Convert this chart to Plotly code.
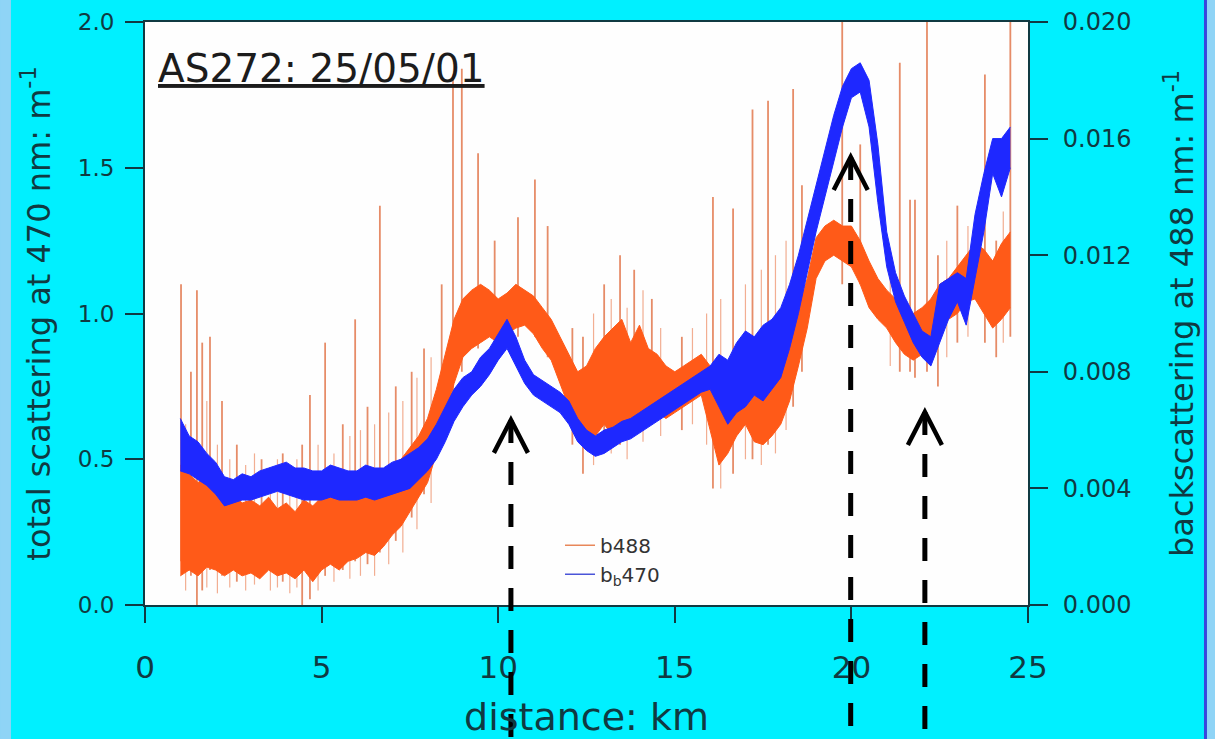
import plotly.graph_objects as go

# ---------------- data ----------------
DIST_KM = [1.00, 1.25, 1.50, 1.75, 2.00, 2.25, 2.50, 2.75, 3.00, 3.25, 3.50, 3.75,
           4.00, 4.25, 4.50, 4.75, 5.00, 5.25, 5.50, 5.75, 6.00, 6.25, 6.50, 6.75,
           7.00, 7.25, 7.50, 7.75, 8.00, 8.25, 8.50, 8.75, 9.00, 9.25, 9.50, 9.75,
           10.00, 10.25, 10.50, 10.75, 11.00, 11.25, 11.50, 11.75, 12.00, 12.25, 12.50, 12.75,
           13.00, 13.25, 13.50, 13.75, 14.00, 14.25, 14.50, 14.75, 15.00, 15.25, 15.50, 15.75,
           16.00, 16.25, 16.50, 16.75, 17.00, 17.25, 17.50, 17.75, 18.00, 18.25, 18.50, 18.75,
           19.00, 19.25, 19.50, 19.75, 20.00, 20.25, 20.50, 20.75, 21.00, 21.25, 21.50, 21.75,
           22.00, 22.25, 22.50, 22.75, 23.00, 23.25, 23.50, 23.75, 24.00, 24.25, 24.50]

# b488 (left axis, total scattering) : lower / upper edge of the noisy band
B488_LOW = [0.10, 0.12, 0.10, 0.13, 0.12, 0.10, 0.12, 0.10, 0.11, 0.09, 0.12, 0.10,
            0.11, 0.09, 0.12, 0.08, 0.12, 0.14, 0.12, 0.15, 0.16, 0.18, 0.17, 0.20,
            0.24, 0.27, 0.32, 0.37, 0.42, 0.52, 0.64, 0.76, 0.85, 0.88, 0.90, 0.92,
            0.90, 0.93, 0.95, 0.96, 0.93, 0.88, 0.84, 0.76, 0.68, 0.60, 0.56, 0.58,
            0.62, 0.58, 0.62, 0.60, 0.64, 0.62, 0.66, 0.64, 0.66, 0.68, 0.70, 0.72,
            0.60, 0.48, 0.52, 0.58, 0.62, 0.56, 0.55, 0.58, 0.62, 0.70, 0.82, 0.95,
            1.12, 1.18, 1.20, 1.18, 1.16, 1.10, 1.02, 0.98, 0.95, 0.90, 0.86, 0.84,
            0.86, 0.90, 0.94, 0.98, 1.00, 1.04, 1.05, 1.00, 0.95, 0.98, 1.02]
B488_HIGH = [0.48, 0.45, 0.42, 0.44, 0.40, 0.36, 0.38, 0.35, 0.36, 0.34, 0.37, 0.33,
             0.35, 0.32, 0.36, 0.34, 0.37, 0.38, 0.40, 0.39, 0.44, 0.42, 0.45, 0.44,
             0.48, 0.50, 0.54, 0.58, 0.64, 0.74, 0.86, 0.98, 1.05, 1.08, 1.10, 1.08,
             1.05, 1.07, 1.10, 1.08, 1.06, 1.02, 0.98, 0.92, 0.86, 0.80, 0.82, 0.88,
             0.92, 0.95, 0.98, 0.90, 0.96, 0.88, 0.86, 0.82, 0.80, 0.82, 0.84, 0.86,
             0.82, 0.78, 0.75, 0.85, 0.88, 0.82, 0.80, 0.84, 0.88, 0.95, 1.02, 1.12,
             1.26, 1.30, 1.32, 1.30, 1.30, 1.25, 1.18, 1.12, 1.08, 1.05, 1.02, 1.00,
             1.02, 1.05, 1.10, 1.12, 1.16, 1.20, 1.24, 1.22, 1.18, 1.24, 1.28]

# bb470 (right axis, backscattering) : lower / upper edge of the noisy band
BB470_LOW = [0.0046, 0.0045, 0.0043, 0.0041, 0.0038, 0.0034, 0.0035, 0.0036, 0.0036, 0.0037, 0.0038, 0.0039,
             0.0038, 0.0037, 0.0036, 0.0036, 0.0036, 0.0037, 0.0036, 0.0036, 0.0036, 0.0037, 0.0036, 0.0037,
             0.0038, 0.0039, 0.0040, 0.0043, 0.0046, 0.0050, 0.0056, 0.0063, 0.0068, 0.0072, 0.0075, 0.0079,
             0.0084, 0.0088, 0.0082, 0.0076, 0.0072, 0.0070, 0.0068, 0.0066, 0.0062, 0.0056, 0.0053, 0.0051,
             0.0052, 0.0054, 0.0056, 0.0057, 0.0059, 0.0061, 0.0063, 0.0065, 0.0067, 0.0069, 0.0071, 0.0073,
             0.0074, 0.0068, 0.0062, 0.0066, 0.0068, 0.0072, 0.0070, 0.0074, 0.0078, 0.0088, 0.0100, 0.0114,
             0.0128, 0.0140, 0.0152, 0.0164, 0.0174, 0.0176, 0.0164, 0.0138, 0.0116, 0.0104, 0.0097, 0.0090,
             0.0085, 0.0082, 0.0090, 0.0098, 0.0104, 0.0096, 0.0112, 0.0128, 0.0148, 0.0140, 0.0150]
BB470_HIGH = [0.0064, 0.0058, 0.0056, 0.0052, 0.0049, 0.0044, 0.0043, 0.0045, 0.0044, 0.0046, 0.0047, 0.0048,
              0.0049, 0.0047, 0.0047, 0.0046, 0.0046, 0.0048, 0.0047, 0.0046, 0.0046, 0.0048, 0.0047, 0.0047,
              0.0049, 0.0050, 0.0052, 0.0054, 0.0057, 0.0062, 0.0068, 0.0074, 0.0078, 0.0080, 0.0085, 0.0088,
              0.0093, 0.0098, 0.0092, 0.0084, 0.0079, 0.0077, 0.0075, 0.0073, 0.0070, 0.0064, 0.0060, 0.0058,
              0.0060, 0.0061, 0.0063, 0.0064, 0.0066, 0.0068, 0.0070, 0.0072, 0.0074, 0.0076, 0.0078, 0.0080,
              0.0082, 0.0086, 0.0084, 0.0090, 0.0094, 0.0092, 0.0096, 0.0098, 0.0102, 0.0110, 0.0120, 0.0132,
              0.0144, 0.0156, 0.0168, 0.0178, 0.0184, 0.0186, 0.0180, 0.0158, 0.0128, 0.0114, 0.0106, 0.0100,
              0.0094, 0.0092, 0.0110, 0.0112, 0.0114, 0.0112, 0.0134, 0.0148, 0.0160, 0.0160, 0.0164]

# isolated tall spikes of the b488 record (left axis)
SPIKE_KM = [1.02, 1.30, 1.47, 1.62, 1.84, 2.18, 2.60, 3.30, 3.90, 4.45,
            4.67, 5.10, 5.60, 5.95, 6.30, 6.65, 7.10, 7.55, 7.90, 8.40,
            8.72, 8.97, 9.43, 9.90, 10.56, 11.04, 11.40, 12.10, 12.40, 13.00,
            13.45, 13.85, 14.35, 15.20, 16.08, 16.65, 17.20, 17.64, 18.35, 18.60,
            19.74, 20.25, 21.37, 21.66, 21.80, 22.14, 22.45, 23.00, 23.78, 24.10, 24.50]
SPIKE_TOP = [1.10, 0.80, 1.08, 0.90, 0.92, 0.70, 0.55, 0.50, 0.52, 0.55,
             0.72, 0.90, 0.62, 0.98, 0.68, 1.37, 0.75, 0.80, 0.88, 1.10,
             1.82, 1.84, 1.55, 1.25, 1.33, 1.46, 1.30, 0.95, 0.92, 1.10,
             1.20, 1.15, 1.05, 0.92, 1.40, 1.36, 1.70, 1.73, 1.77, 1.44,
             2.00, 1.58, 1.86, 1.39, 1.39, 2.00, 1.20, 1.37, 1.82, 1.25, 2.00]
SPIKE_BOTTOM = [0.15, 0.10, 0.00, 0.05, 0.12, 0.10, 0.08, 0.10, 0.08, 0.00,
                0.02, 0.10, 0.12, 0.15, 0.14, 0.18, 0.22, 0.30, 0.38, 0.60,
                0.70, 0.80, 0.88, 0.90, 0.92, 0.92, 0.85, 0.55, 0.45, 0.58,
                0.55, 0.60, 0.62, 0.60, 0.40, 0.45, 0.50, 0.55, 0.68, 0.80,
                1.10, 1.10, 0.80, 0.80, 0.78, 0.80, 0.75, 0.90, 0.90, 0.85, 0.92]

# shorter hair-like excursions of the b488 record (left axis)
HAIR_KM = [1.15, 1.75, 2.05, 2.40, 2.85, 3.10, 3.55, 3.75, 4.10, 4.30,
           4.90, 5.35, 5.80, 6.10, 6.50, 6.90, 7.30, 7.70, 8.10, 12.70,
           13.20, 13.65, 14.10, 14.60, 15.50, 15.90, 16.30, 17.00, 17.45, 17.85,
           18.15, 21.10, 22.70, 23.30, 24.30]
HAIR_TOP = [0.62, 0.70, 0.55, 0.50, 0.48, 0.52, 0.47, 0.50, 0.46, 0.50,
            0.55, 0.52, 0.58, 0.60, 0.62, 0.66, 0.70, 0.78, 0.85, 1.00,
            1.05, 1.02, 1.08, 0.95, 0.95, 1.00, 1.05, 1.10, 1.15, 1.20,
            1.25, 1.15, 1.25, 1.30, 1.35]
HAIR_BOTTOM = [0.05, 0.06, 0.04, 0.06, 0.05, 0.07, 0.05, 0.06, 0.04, 0.06,
               0.05, 0.08, 0.09, 0.10, 0.10, 0.14, 0.18, 0.26, 0.35, 0.48,
               0.52, 0.50, 0.56, 0.58, 0.62, 0.55, 0.40, 0.50, 0.48, 0.52,
               0.60, 0.82, 0.85, 0.92, 0.90]

X_TICKS = [0, 5, 10, 15, 20, 25]
Y_TICKS = [0.0, 0.5, 1.0, 1.5, 2.0]
Y2_TICKS = [0.000, 0.004, 0.008, 0.012, 0.016, 0.020]
X_RANGE = [0, 25]
Y_RANGE = [0, 2.0]
Y2_RANGE = [0, 0.020]

# marked features (distance, level on the left axis where the arrow tip sits)
ARROW_KM = [10.36, 19.98, 22.08]
ARROW_TIP = [0.635, 1.537, 0.662]

# ---------------- styling ----------------
ORANGE = "#ff5a18"
SPIKE_COLOR = "rgba(226,120,78,0.85)"
HAIR_COLOR = "rgba(236,140,100,0.7)"
BLUE = "#1e28ff"
AXIS_COLOR = "#103a42"
BG = "#00f0ff"
EDGE_LIGHT = "#8fd4f6"
EDGE_BLUE = "#3a46dc"
FONT = "DejaVu Sans"


def segments(xs, tops, bottoms):
    sx, sy = [], []
    for k, top, bot in zip(xs, tops, bottoms):
        sx += [k, k, None]
        sy += [bot, top, None]
    return sx, sy


fig = go.Figure()

hx, hy = segments(HAIR_KM, HAIR_TOP, HAIR_BOTTOM)
fig.add_trace(go.Scatter(x=hx, y=hy, mode="lines", line=dict(color=HAIR_COLOR, width=1.2),
                         showlegend=False, hoverinfo="skip"))
sx, sy = segments(SPIKE_KM, SPIKE_TOP, SPIKE_BOTTOM)
fig.add_trace(go.Scatter(x=sx, y=sy, mode="lines", line=dict(color=SPIKE_COLOR, width=1.8),
                         showlegend=False, hoverinfo="skip"))

# b488 band
fig.add_trace(go.Scatter(x=DIST_KM, y=B488_LOW, mode="lines", line=dict(color=ORANGE, width=1),
                         showlegend=False, hoverinfo="skip"))
fig.add_trace(go.Scatter(x=DIST_KM, y=B488_HIGH, mode="lines", line=dict(color=ORANGE, width=1),
                         fill="tonexty", fillcolor=ORANGE, showlegend=False, hoverinfo="skip"))

# bb470 band (right axis)
fig.add_trace(go.Scatter(x=DIST_KM, y=BB470_LOW, mode="lines", line=dict(color=BLUE, width=1),
                         yaxis="y2", showlegend=False, hoverinfo="skip"))
fig.add_trace(go.Scatter(x=DIST_KM, y=BB470_HIGH, mode="lines", line=dict(color=BLUE, width=1),
                         fill="tonexty", fillcolor=BLUE, yaxis="y2", showlegend=False, hoverinfo="skip"))

# legend entries
fig.add_trace(go.Scatter(x=[None], y=[None], mode="lines", line=dict(color="#e8875a", width=1.5),
                         name="b488"))
fig.add_trace(go.Scatter(x=[None], y=[None], mode="lines", line=dict(color="#4a55d8", width=1.5),
                         name="b<sub>b</sub>470", yaxis="y2"))

shapes = [
    # window edges
    dict(type="rect", xref="paper", yref="paper", x0=-0.1642, x1=-0.1518, y0=-0.25, y1=1.06,
         fillcolor=EDGE_LIGHT, line=dict(width=0), layer="below"),
    dict(type="rect", xref="paper", yref="paper", x0=1.1993, x1=1.2027, y0=-0.25, y1=1.06,
         fillcolor=EDGE_BLUE, line=dict(width=0), layer="below"),
    dict(type="rect", xref="paper", yref="paper", x0=1.2027, x1=1.2130, y0=-0.25, y1=1.06,
         fillcolor=EDGE_LIGHT, line=dict(width=0), layer="below"),
]
for k, tip in zip(ARROW_KM, ARROW_TIP):
    shapes.append(dict(type="line", xref="x", yref="paper", x0=k, x1=k,
                       y0=tip / Y_RANGE[1], y1=-0.26,
                       line=dict(color="black", width=5, dash="23px,19px")))
    shapes.append(dict(type="path", xref="x", yref="y", xsizemode="pixel", ysizemode="pixel",
                       xanchor=k, yanchor=tip, path="M -17 -33 L 0 0 L 17 -33",
                       line=dict(color="black", width=4.5)))

fig.update_layout(
    width=1215, height=739,
    margin=dict(l=145, r=187, t=22, b=134),
    paper_bgcolor=BG, plot_bgcolor="#fefefe",
    font=dict(family=FONT, color=AXIS_COLOR),
    shapes=shapes,
    showlegend=True,
    legend=dict(x=0.47, y=0.136, xanchor="left", yanchor="top", bgcolor="rgba(0,0,0,0)",
                traceorder="normal",
                font=dict(family=FONT, size=20, color="#333333"), tracegroupgap=0),
    annotations=[dict(text="AS272: 25/05/01", xref="paper", yref="paper", x=0.012, y=0.962,
                      xanchor="left", yanchor="top", showarrow=False,
                      font=dict(family=FONT, size=39, color="#1c1c1c", lineposition="under"))],
    xaxis=dict(range=X_RANGE, tickvals=X_TICKS, showgrid=False, zeroline=False, automargin=False,
               showline=True, linecolor=AXIS_COLOR, linewidth=2, mirror=True,
               ticks="outside", ticklen=16, tickwidth=2, tickcolor=AXIS_COLOR,
               tickfont=dict(size=31, color=AXIS_COLOR), ticklabelstandoff=18,
               title=dict(text="distance: km", font=dict(size=38, color=AXIS_COLOR), standoff=20)),
    yaxis=dict(range=Y_RANGE, tickvals=Y_TICKS, tickformat=".1f", showgrid=False, zeroline=False,
               automargin=False,
               showline=True, linecolor=AXIS_COLOR, linewidth=2,
               ticks="outside", ticklen=18, tickwidth=2, tickcolor=AXIS_COLOR,
               tickfont=dict(size=23, color=AXIS_COLOR), ticklabelstandoff=6,
               title=dict(text="total scattering at 470 nm: m<sup>-1</sup>",
                          font=dict(size=32, color=AXIS_COLOR), standoff=18)),
    yaxis2=dict(range=Y2_RANGE, tickvals=Y2_TICKS, tickformat=".3f", overlaying="y", side="right",
                showgrid=False, zeroline=False, automargin=False,
                showline=True, linecolor=AXIS_COLOR, linewidth=2,
                ticks="outside", ticklen=18, tickwidth=2, tickcolor=AXIS_COLOR,
                tickfont=dict(size=24, color=AXIS_COLOR), ticklabelstandoff=10,
                title=dict(text="backscattering at 488 nm: m<sup>-1</sup>",
                           font=dict(size=32, color=AXIS_COLOR), standoff=40)),
)

fig.write_html("out.html")
